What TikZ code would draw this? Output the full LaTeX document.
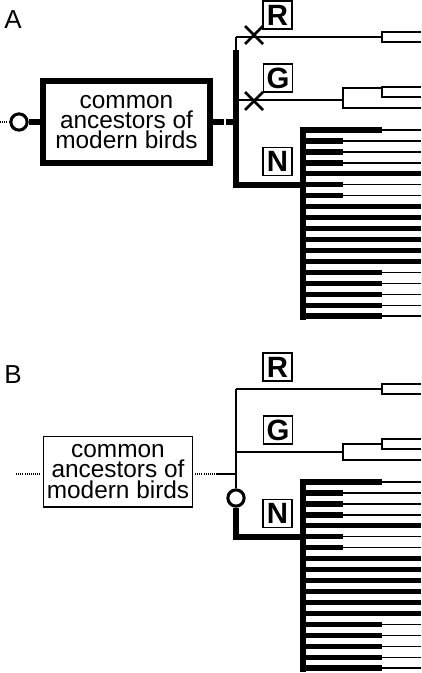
\documentclass[tikz,border=0pt]{standalone}
\usepackage{fontspec}
\setmainfont{Liberation Sans}
\begin{document}
\begin{tikzpicture}[x=0.75pt,y=-0.75pt,
  twig/.style={line width=1.05pt},
  bough/.style={line width=4.5pt},
  tooth/.style={line width=4pt},
  xmark/.style={line width=1.9pt},
  ring/.style={circle, draw, line width=2.3pt, fill=white, inner sep=0pt, minimum size=12.2pt},
  dots/.style={line width=0.9pt, dash pattern=on 0.8pt off 0.8pt},
  clade/.style={draw, line width=1.1pt, inner sep=0pt, minimum width=21.5pt, minimum height=21pt, font=\fontsize{22}{22}\selectfont\bfseries},
  ancA/.style={draw, line width=4.5pt, inner sep=0pt, minimum width=125.3pt, minimum height=61.5pt, align=center, font=\fontsize{18.3}{15.2}\selectfont},
  ancB/.style={draw, line width=1.1pt, inner sep=0pt, minimum width=111.4pt, minimum height=52.9pt, align=center, font=\fontsize{18.3}{15.2}\selectfont},
  panel/.style={anchor=base west, inner sep=0pt, font=\fontsize{19.5}{20}\selectfont}
]
\useasboundingbox (0,0) rectangle (421,673);

% ---------- shared right-hand trees (panel A: d=0, panel B: d=352)
\foreach \d/\gu in {0/88,352/92} {
  % R lineage
  \draw[twig] (236,{37+\d}) -- (382,{37+\d});
  \draw[twig] (421,{32+\d}) -- (382,{32+\d}) -- (382,{42+\d}) -- (421,{42+\d});
  % G lineage
  \draw[twig] (236,{100+\d}) -- (343,{100+\d});
  \draw[twig] (382,{\gu+\d}) -- (343,{\gu+\d}) -- (343,{108+\d}) -- (421,{108+\d});
  \draw[twig] (421,{87+\d}) -- (382,{87+\d}) -- (382,{97+\d}) -- (421,{97+\d});
  % N comb
  \draw[bough] (303,{127+\d}) -- (303,{320+\d});
  \foreach \k/\e in {0/382,1/343,2/343,3/343,4/421,5/343,6/343,7/421,8/421,9/421,10/421,11/421,12/421,13/382,14/382,15/382,16/382,17/382} {
    \pgfmathsetmacro\yy{130+10.95*\k+\d}
    \draw[twig] (303,\yy) -- (421,\yy);
    \draw[tooth] (303,\yy) -- (\e,\yy);
  }
}

% ---------- panel A
\node[panel] (labA) at (4,29) {A};
\node[ancA] (ancA) at (126.5,122) {common\\ancestors of\\modern birds};
\coordinate (startA) at (0,122);
\node[ring] (rootA) at (19,122) {};
\draw[dots] (startA) -- (rootA.west);
\draw[line width=5pt] (rootA.east) -- (ancA.west);
\coordinate (hubA) at (236,122);
\draw[bough, dash pattern=on 7.9pt off 1.5pt on 30pt off 0pt] (ancA.east) -- (hubA);
\coordinate (topA) at (236,50);
\coordinate (rA) at (236,37);
\coordinate (elbowA) at (236,185);
\coordinate (combA) at (303,185);
\draw[twig] (topA) -- (rA);
\draw[bough] (topA) -- (elbowA) -- (combA);
\draw[xmark] (245,26) -- (263,44) (245,44) -- (263,26);
\draw[xmark] (245,92) -- (263,110) (245,110) -- (263,92);
\node[clade, fill=white] (RA) at (277.5,15) {R};
\node[clade] (GA) at (278,78) {G};
\node[clade] (NA) at (277.5,161.5) {N};

% ---------- panel B
\node[panel] (labB) at (4,383) {B};
\node[ancB] (ancB) at (118,471.5) {common\\ancestors of\\modern birds};
\coordinate (startB) at (16,474);
\coordinate (leftB) at (39.5,474);
\draw[dots] (startB) -- (leftB);
\coordinate (rightB) at (195,474);
\coordinate (solidB) at (217,474);
\coordinate (hubB) at (236,474);
\draw[dots] (rightB) -- (solidB);
\draw[twig] (solidB) -- (hubB);
\coordinate (rB) at (236,389);
\node[ring] (rootB) at (236,498) {};
\draw[twig] (rB) -- (rootB.north);
\coordinate (elbowB) at (236,537);
\coordinate (combB) at (303,537);
\draw[bough] (rootB.south) -- (elbowB) -- (combB);
\node[clade] (RB) at (277.5,367) {R};
\node[clade] (GB) at (278,430) {G};
\node[clade] (NB) at (277.5,513.5) {N};
\end{tikzpicture}
\end{document}
